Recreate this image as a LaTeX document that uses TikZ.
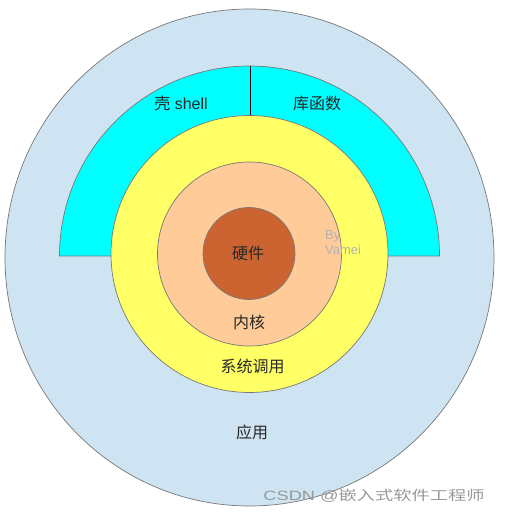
\documentclass[tikz,border=0pt]{standalone}
\usepackage{fontspec}
\setmainfont{Liberation Sans}
\newfontfamily\cjk{Noto Sans CJK SC}
\definecolor{appblue}{RGB}{207,228,242}
\definecolor{shellcyan}{RGB}{0,255,255}
\definecolor{sysyellow}{RGB}{255,255,102}
\definecolor{kernorange}{RGB}{255,204,153}
\definecolor{hwbrown}{RGB}{204,100,50}
\definecolor{edgegray}{RGB}{120,120,120}
\definecolor{txt}{RGB}{40,40,40}
\begin{document}
\begin{tikzpicture}[x=1pt,y=1pt,
  ring/.style={draw=edgegray,line width=0.7pt},
  lbl/.style={text=txt,font=\fontsize{16}{18}\selectfont,inner sep=0pt},
  sign/.style={text=black!30,font=\fontsize{13}{14.5}\selectfont,align=left,inner sep=0pt},
  wmark/.style={text=black!40,font=\fontsize{13.5}{15}\selectfont,inner sep=0pt,xscale=1.35}]
\useasboundingbox (0,0) rectangle (504,512);
% outer application ellipse
\fill[white] (0,0) rectangle (504,512);
\draw[ring,fill=appblue] (249.5,254.5) ellipse [x radius=244.5, y radius=248.5];
% shell / library half ring
\draw[ring,fill=shellcyan] (59.5,256) arc[start angle=180,end angle=0,radius=190] -- cycle;
% system call circle
\draw[ring,fill=sysyellow] (249.5,258) circle[radius=138.5];
\coordinate (divlow) at (250,396.5);
\coordinate (divtop) at (250,446);
\draw[black,line width=0.7pt] (divlow) -- (divtop);
% kernel
\draw[ring,fill=kernorange] (249.5,258) circle[radius=92];
% hardware
\draw[ring,fill=hwbrown] (249,258.5) circle[radius=46];
% labels
\node[lbl] (shell) at (181,408.5) {{\cjk 壳} shell};
\node[lbl] (lib) at (317,408.5) {\cjk 库函数};
\node[lbl] (hw) at (248,259) {\cjk 硬件};
\node[lbl] (kern) at (249,190) {\cjk 内核};
\node[lbl] (sys) at (252.5,145.5) {\cjk 系统调用};
\node[lbl] (app) at (252,80) {\cjk 应用};
\node[sign,anchor=west] (by) at (325,269.5) {By\\Vamei};
\node[wmark] (wm) at (374,16) {CSDN @{\cjk 嵌入式软件工程师}};
\end{tikzpicture}
\end{document}
